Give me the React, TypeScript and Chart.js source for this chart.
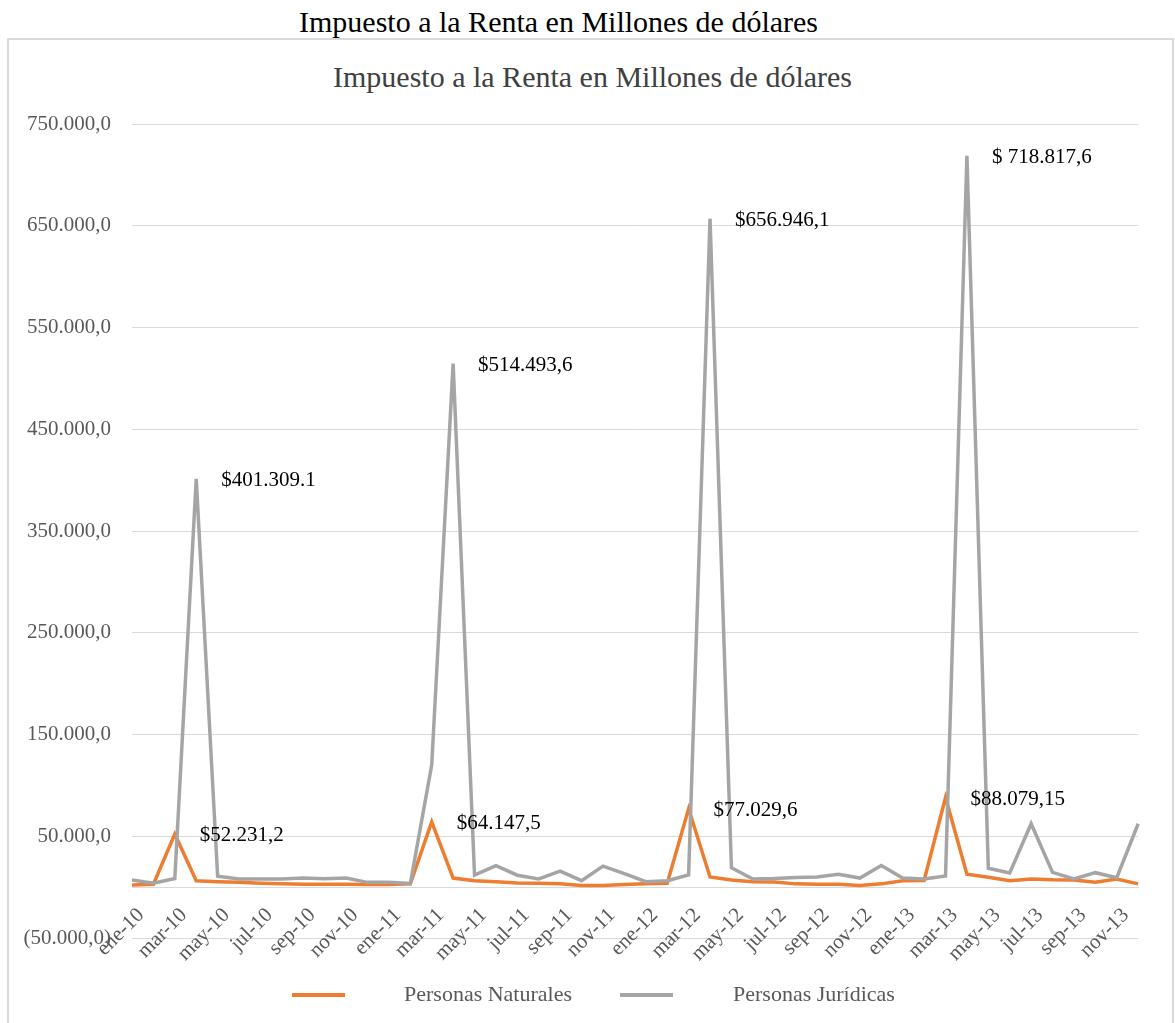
import React, { useEffect, useRef } from 'react';
import { Chart, registerables } from 'chart.js';

Chart.register(...registerables);

// ---------- data ----------
const months = [
  'ene-10', 'feb-10', 'mar-10', 'abr-10', 'may-10', 'jun-10', 'jul-10', 'ago-10', 'sep-10', 'oct-10', 'nov-10', 'dic-10',
  'ene-11', 'feb-11', 'mar-11', 'abr-11', 'may-11', 'jun-11', 'jul-11', 'ago-11', 'sep-11', 'oct-11', 'nov-11', 'dic-11',
  'ene-12', 'feb-12', 'mar-12', 'abr-12', 'may-12', 'jun-12', 'jul-12', 'ago-12', 'sep-12', 'oct-12', 'nov-12', 'dic-12',
  'ene-13', 'feb-13', 'mar-13', 'abr-13', 'may-13', 'jun-13', 'jul-13', 'ago-13', 'sep-13', 'oct-13', 'nov-13', 'dic-13',
];

const personasNaturales = [
  2200, 2800, 52231.2, 6300, 5400, 4700, 3800, 3200, 2800, 2800, 2800, 2500,
  2500, 3200, 64147.5, 8900, 6300, 5400, 4100, 3800, 3200, 1600, 1600, 2500,
  3200, 3800, 77029.6, 10000, 7000, 5400, 5000, 3200, 2800, 2800, 1600, 3200,
  6300, 6600, 88079.15, 12700, 9800, 6300, 8000, 7200, 7000, 4700, 8000, 3200,
];

const personasJuridicas = [
  7000, 3800, 8500, 401309.1, 10800, 8000, 8000, 8000, 8900, 8200, 8900, 4700,
  4700, 3500, 120000, 514493.6, 11700, 21000, 11700, 8000, 15800, 6300, 20600, 13300,
  5400, 6300, 12000, 656946.1, 19000, 8000, 8500, 9500, 10000, 12700, 8900, 21200,
  8900, 8000, 11000, 718817.6, 18500, 14000, 62300, 14500, 8000, 14200, 9200, 62300,
];

const naturalesPeakIndex = [2, 14, 26, 38];
const naturalesPeakText = ['$52.231,2', '$64.147,5', '$77.029,6', '$88.079,15'];
const juridicasPeakIndex = [3, 15, 27, 39];
const juridicasPeakText = ['$401.309.1', '$514.493,6', '$656.946,1', '$ 718.817,6'];

const yMin = -50000;
const yMax = 750000;
const yStep = 100000;

const titleText = 'Impuesto a la Renta en Millones de dólares';
const seriesNames = ['Personas Naturales', 'Personas Jurídicas'];
const seriesColors = ['#ED7D31', '#A5A5A5'];

// ---------- helpers ----------
const SERIF = '"Liberation Serif", "Times New Roman", serif';

function formatEs(v: number): string {
  const abs = Math.abs(v);
  const [intPart, dec] = abs.toFixed(1).split('.');
  const grouped = intPart.replace(/\B(?=(\d{3})+(?!\d))/g, '.');
  const s = grouped + ',' + dec;
  return v < 0 ? '(' + s + ')' : s;
}

const peakLabels: Record<number, { idx: number[]; text: string[] }> = {
  0: { idx: naturalesPeakIndex, text: naturalesPeakText },
  1: { idx: juridicasPeakIndex, text: juridicasPeakText },
};

const dataLabelPlugin = {
  id: 'peakLabels',
  afterDatasetsDraw(chart: any) {
    const ctx = chart.ctx;
    ctx.save();
    ctx.font = `21px ${SERIF}`;
    ctx.fillStyle = '#000000';
    ctx.textAlign = 'left';
    ctx.textBaseline = 'middle';
    chart.data.datasets.forEach((_ds: any, di: number) => {
      const info = peakLabels[di];
      if (!info) return;
      const meta = chart.getDatasetMeta(di);
      info.idx.forEach((i, k) => {
        const pt = meta.data[i];
        if (!pt) return;
        ctx.fillText(info.text[k], pt.x + 25, pt.y + 2);
      });
    });
    ctx.restore();
  },
};

const legendPlugin = {
  id: 'customLegend',
  afterDraw(chart: any) {
    const ctx = chart.ctx;
    const y = 954;
    const items = [
      { lineX: 282, lineW: 53, textX: 394 },
      { lineX: 610, lineW: 53, textX: 723 },
    ];
    ctx.save();
    ctx.font = `22px ${SERIF}`;
    ctx.textBaseline = 'middle';
    ctx.textAlign = 'left';
    chart.data.datasets.forEach((ds: any, di: number) => {
      const it = items[di];
      ctx.strokeStyle = ds.borderColor;
      ctx.lineWidth = 4;
      ctx.beginPath();
      ctx.moveTo(it.lineX, y);
      ctx.lineTo(it.lineX + it.lineW, y);
      ctx.stroke();
      ctx.fillStyle = '#595959';
      ctx.fillText(ds.label, it.textX, y);
    });
    ctx.restore();
  },
};

export default function App() {
  const canvasRef = useRef<HTMLCanvasElement | null>(null);

  useEffect(() => {
    if (!canvasRef.current) return;
    const chart = new Chart(canvasRef.current, {
      type: 'line',
      data: {
        labels: months,
        datasets: [
          {
            label: seriesNames[0],
            data: personasNaturales,
            borderColor: seriesColors[0],
            backgroundColor: seriesColors[0],
            borderWidth: 3.5,
            pointRadius: 0,
            tension: 0,
            order: 1,
          },
          {
            label: seriesNames[1],
            data: personasJuridicas,
            borderColor: seriesColors[1],
            backgroundColor: seriesColors[1],
            borderWidth: 3.5,
            pointRadius: 0,
            tension: 0,
            order: 0,
          },
        ],
      },
      options: {
        animation: false,
        responsive: false,
        maintainAspectRatio: false,
        layout: { padding: { top: 83, left: 0, right: 28, bottom: 85 } },
        plugins: {
          legend: { display: false },
          tooltip: { enabled: false },
          title: { display: false },
        },
        scales: {
          x: {
            type: 'category',
            position: { y: 0 } as any,
            afterFit(scale: any) {
              scale.height = 0;
            },
            grid: { display: false, drawTicks: false },
            border: { display: true, color: '#d9d9d9', width: 1 },
            ticks: {
              autoSkip: false,
              minRotation: 45,
              maxRotation: 45,
              padding: 16,
              labelOffset: 9,
              color: '#595959',
              font: { family: SERIF, size: 21 },
              callback: (_v: any, i: number) => (i % 2 === 0 ? months[i] : ''),
            },
          },
          y: {
            min: yMin,
            max: yMax,
            afterFit(scale: any) {
              scale.width = 122;
            },
            grid: { color: '#d9d9d9', lineWidth: 1, drawTicks: false },
            border: { display: false },
            ticks: {
              stepSize: yStep,
              padding: 21,
              color: '#595959',
              font: { family: SERIF, size: 21 },
              callback: (v: any) => formatEs(Number(v)),
            },
          },
        },
      },
      plugins: [dataLabelPlugin, legendPlugin],
    });
    return () => chart.destroy();
  }, []);

  return (
    <div style={{ position: 'absolute', left: 0, top: 0, width: 1175, height: 1023, overflow: 'hidden', background: '#ffffff' }}>
      <div
        style={{
          position: 'absolute',
          left: 299,
          top: 7,
          fontFamily: SERIF,
          fontSize: 30,
          lineHeight: '30px',
          color: '#000000',
          whiteSpace: 'nowrap',
        }}
      >
        {titleText}
      </div>
      <div
        style={{
          position: 'absolute',
          left: 7,
          top: 38,
          width: 1167,
          height: 1100,
          boxSizing: 'border-box',
          border: '2px solid #d9d9d9',
        }}
      />
      <div
        style={{
          position: 'absolute',
          left: 333,
          top: 62,
          fontFamily: SERIF,
          fontSize: 30,
          lineHeight: '30px',
          color: '#404040',
          whiteSpace: 'nowrap',
        }}
      >
        {titleText}
      </div>
      <canvas
        ref={canvasRef}
        width={1162}
        height={982}
        style={{ position: 'absolute', left: 10, top: 41, width: 1162, height: 982 }}
      />
    </div>
  );
}
